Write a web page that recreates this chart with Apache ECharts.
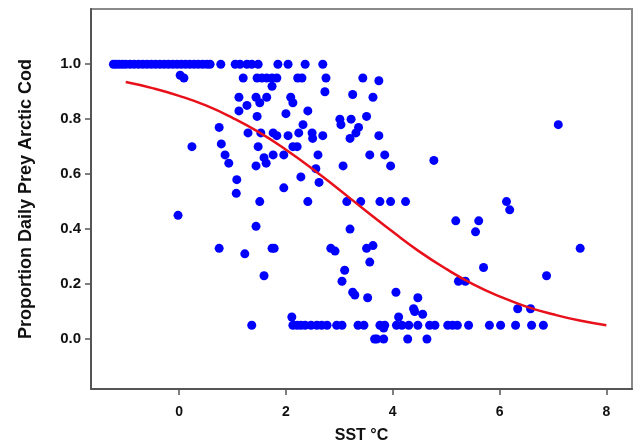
<!DOCTYPE html>
<html>
<head>
<meta charset="utf-8">
<title>Proportion Daily Prey Arctic Cod vs SST</title>
<script src="https://cdn.jsdelivr.net/npm/echarts@6/dist/echarts.min.js"></script>
<style>
  html, body {margin:0; padding:0; background:#fff;}
  #chart {width:635px; height:446px;}
</style>
</head>
<body>
<div id="chart"></div>
<script>

var sst_obs = [
  -1.23,-1.18,-1.12,-1.06,-1.0,-0.92,-0.84,-0.76,-0.68,-0.6,-0.52,-0.44,-0.36,-0.28,-0.2,-0.12,-0.04,0.04,0.12,0.2,0.28,0.36,0.44,0.52,0.58,0.78,1.05,1.14,1.27,1.36,1.48,1.85,2.04,2.36,2.69,
  0.02,0.09,1.2,1.46,1.55,1.64,1.74,1.83,2.22,2.3,2.75,3.44,3.74,1.74,
  2.73,3.25,3.63,1.12,1.44,1.51,1.64,2.09,2.13,1.27,1.12,2.41,1.46,2.0,
  3.01,3.03,3.22,3.51,3.36,3.31,3.2,3.74,2.69,2.32,2.24,2.49,2.5,0.75,1.29,1.53,1.76,1.83,2.04,0.79,0.24,1.48,2.13,2.21,4.77,7.1,
  0.86,1.59,1.76,1.96,2.6,3.57,3.85,0.93,1.63,1.44,2.56,3.07,3.96,2.28,2.62,1.08,1.96,1.07,1.51,2.41,3.14,3.4,3.76,3.96,4.24,6.13,6.19,
  -0.02,1.44,5.18,5.61,5.55,3.2,0.75,1.23,1.74,1.78,2.84,2.92,3.51,3.63,7.51,3.57,5.7,3.1,1.59,6.88,3.05,5.23,5.36,
  3.25,3.29,3.53,4.06,4.47,4.39,4.41,4.56,4.11,2.11,6.34,6.58,
  1.36,2.13,2.21,2.28,2.36,2.47,2.58,2.67,2.77,2.95,3.05,3.35,3.46,3.76,3.85,4.07,4.17,4.3,4.47,4.69,4.79,5.03,5.12,5.21,5.42,5.81,6.02,6.3,6.6,6.82,3.83,
  3.66,3.7,3.83,4.28,4.64
];
var prop_obs = [
  1,1,1,1,1,1,1,1,1,1,1,1,1,1,1,1,1,1,1,1,1,1,1,1,1,1,1,1,1,1,1,1,1,1,1,
  0.96,0.95,0.95,0.95,0.95,0.95,0.95,0.95,0.95,0.95,0.95,0.95,0.94,0.92,
  0.9,0.89,0.88,0.88,0.88,0.86,0.88,0.88,0.86,0.85,0.83,0.83,0.81,0.82,
  0.8,0.78,0.8,0.81,0.77,0.75,0.73,0.74,0.74,0.78,0.75,0.75,0.73,0.77,0.75,0.75,0.75,0.74,0.74,0.71,0.7,0.7,0.7,0.7,0.65,0.78,
  0.67,0.66,0.67,0.67,0.67,0.67,0.67,0.64,0.64,0.63,0.62,0.63,0.63,0.59,0.57,0.58,0.55,0.53,0.5,0.5,0.5,0.5,0.5,0.5,0.5,0.5,0.47,
  0.45,0.41,0.43,0.43,0.39,0.4,0.33,0.31,0.33,0.33,0.33,0.32,0.33,0.34,0.33,0.28,0.26,0.25,0.23,0.23,0.21,0.21,0.21,
  0.17,0.16,0.15,0.17,0.15,0.11,0.1,0.09,0.08,0.08,0.11,0.11,
  0.05,0.05,0.05,0.05,0.05,0.05,0.05,0.05,0.05,0.05,0.05,0.05,0.05,0.05,0.05,0.05,0.05,0.05,0.05,0.05,0.05,0.05,0.05,0.05,0.05,0.05,0.05,0.05,0.05,0.05,0.04,
  0,0,0,0,0
];

// fitted curve (red)
var sst_fit = [-1,-0.5,0,0.5,1,1.5,2,2.5,3,3.5,4,4.5,5,5.5,6,6.5,7,7.5,8];
var prop_fit = [0.935,0.913,0.885,0.85,0.805,0.752,0.689,0.619,0.543,0.466,0.39,0.318,0.255,0.2,0.155,0.118,0.09,0.067,0.05];

var x_ticks = [0,2,4,6,8];
var y_ticks = [0,0.2,0.4,0.6,0.8,1.0];

var font = 'Liberation Sans, Arial, sans-serif';

var myChart = echarts.init(document.getElementById('chart'));

var option = {
    animation:false,
    backgroundColor:'#fff',
    grid:{
        left:91, right:3, top:9, bottom:57,
        outerBoundsMode:'none',   // keep the plot box where it is, names may run to the edge
        containLabel:false,
        show:true,
        borderColor:'#8a8a8a',
        borderWidth:2,
    },
    xAxis:{
        type:'value',
        min:-1.65, max:8.48,
        name:'SST \u00B0C',
        nameLocation:'middle',
        nameGap:39,
        nameTextStyle:{fontSize:16, fontWeight:'bold', color:'#111', fontFamily:font},
        axisLine:{show:true, onZero:false, lineStyle:{color:'#555', width:2}},
        axisTick:{show:true, inside:false, length:6, customValues:x_ticks, lineStyle:{color:'#555', width:1.5}},
        axisLabel:{customValues:x_ticks, margin:16, fontSize:14, fontWeight:'bold', color:'#111', fontFamily:font},
        splitLine:{show:false},
    },
    yAxis:{
        type:'value',
        min:-0.182, max:1.201,
        name:'Proportion Daily Prey Arctic Cod',
        nameLocation:'middle',
        nameRotate:90,
        nameGap:56,
        nameTextStyle:{fontSize:18, fontWeight:'bold', color:'#111', fontFamily:font},
        axisLine:{show:true, onZero:false, lineStyle:{color:'#555', width:2}},
        axisTick:{show:true, inside:false, length:6, customValues:y_ticks, lineStyle:{color:'#555', width:1.5}},
        axisLabel:{
            customValues:y_ticks, margin:10, fontSize:15, fontWeight:'bold', color:'#111', fontFamily:font,
            formatter:function(v){return v.toFixed(1);}
        },
        splitLine:{show:false},
    },
    series:[
        {
            type:'scatter',
            data:sst_obs.map(function(d,i){return [d, prop_obs[i]];}),
            symbol:'circle',
            symbolSize:9,
            itemStyle:{color:'#0000ff', opacity:1},
            z:2,
        },
        {
            type:'line',
            data:sst_fit.map(function(d,i){return [d, prop_fit[i]];}),
            smooth:true,
            showSymbol:false,
            lineStyle:{color:'#e8101a', width:2.5},
            z:3,
        },
    ],
};

myChart.setOption(option);

</script>
</body>
</html>
